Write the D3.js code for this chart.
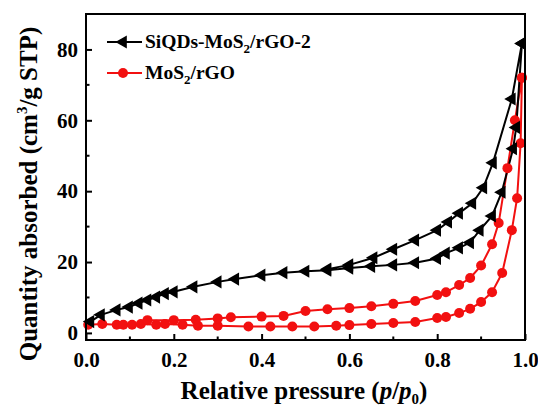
<!DOCTYPE html>
<html>
<head>
<meta charset="utf-8">
<script src="https://cdn.jsdelivr.net/npm/d3@7"></script>
<style>
  body { margin: 0; background: #fff; }
  text { font-family: "Liberation Serif", "Times New Roman", serif; font-weight: bold; }
</style>
</head>
<body>
<div id="chart"></div>
<script>
// SiQDs-MoS2/rGO-2 : adsorption then desorption branch
const siAdsP = [0.01, 0.034, 0.07, 0.098, 0.12, 0.14, 0.16, 0.18, 0.2, 0.245, 0.3, 0.34, 0.4, 0.45, 0.5, 0.55, 0.6, 0.65, 0.7, 0.75, 0.8, 0.82, 0.85, 0.875, 0.897, 0.925, 0.947, 0.973, 0.98, 0.993];
const siAdsV = [3.2, 5.1, 6.5, 7.3, 8.4, 9.3, 10.1, 11.1, 11.6, 13, 14.4, 15.2, 16.3, 17, 17.4, 17.7, 18.3, 18.8, 19.2, 19.8, 21, 22.5, 24, 25.5, 29, 33, 39.7, 52, 58, 81.7];
const siDesP = [0.993, 0.97, 0.927, 0.905, 0.88, 0.85, 0.825, 0.8, 0.75, 0.7, 0.655, 0.6, 0.55];
const siDesV = [81.7, 66, 48, 41, 36.6, 33.8, 31.3, 29, 26.2, 23.6, 21.2, 19.2, 18];

// MoS2/rGO
const moAdsP = [0.005, 0.037, 0.07, 0.085, 0.105, 0.125, 0.16, 0.18, 0.22, 0.255, 0.3, 0.37, 0.42, 0.47, 0.52, 0.57, 0.6, 0.65, 0.7, 0.75, 0.8, 0.82, 0.85, 0.875, 0.9, 0.925, 0.948, 0.97, 0.982, 0.99, 0.993];
const moAdsV = [2.3, 2.5, 2.3, 2.3, 2.3, 2.5, 2.3, 2.5, 2.3, 2.0, 2.0, 1.8, 1.8, 1.8, 1.8, 2.0, 2.2, 2.5, 2.8, 3.1, 4.2, 4.5, 5.6, 6.8, 8.7, 11.5, 16.9, 29, 38, 53.5, 72];
const moDesP = [0.993, 0.977, 0.96, 0.94, 0.925, 0.9, 0.875, 0.85, 0.82, 0.8, 0.75, 0.7, 0.65, 0.6, 0.55, 0.5, 0.45, 0.4, 0.33, 0.3, 0.25, 0.2, 0.14];
const moDesV = [72, 60, 46.5, 31, 25, 19, 15.5, 13.5, 11.5, 10.7, 9, 8.2, 7.5, 7, 6.7, 6.2, 4.8, 4.6, 4.4, 4.1, 3.7, 3.6, 3.6];

const xTicks = [0, 0.2, 0.4, 0.6, 0.8, 1.0];
const yTicks = [0, 20, 40, 60, 80];

const width = 538, height = 409;
const margin = { top: 14, right: 13, bottom: 69, left: 86 };

const x = d3.scaleLinear().domain([0, 1]).range([margin.left, width - margin.right]);
const y = d3.scaleLinear().domain([-2, 90]).range([height - margin.bottom, margin.top]);

const svg = d3.select('#chart').append('svg')
  .attr('width', width)
  .attr('height', height);

const zip = (p, v) => p.map((d, i) => [d, v[i]]);
const siPts = zip(siAdsP, siAdsV).concat(zip(siDesP, siDesV));
const moPts = zip(moAdsP, moAdsV).concat(zip(moDesP, moDesV));

const line = d3.line().x(d => x(d[0])).y(d => y(d[1]));
const red = '#f21010';

// lines
svg.append('path').datum(moPts)
  .attr('d', line).attr('fill', 'none').attr('stroke', red).attr('stroke-width', 2);
svg.append('path').datum(siPts)
  .attr('d', line).attr('fill', 'none').attr('stroke', '#000').attr('stroke-width', 2);

// markers
svg.append('g').selectAll('circle').data(moPts).enter()
  .append('circle')
  .attr('cx', d => x(d[0])).attr('cy', d => y(d[1]))
  .attr('r', 5).attr('fill', red);

const tri = d3.symbol().type(d3.symbolTriangle).size(75);
svg.append('g').selectAll('path').data(siPts).enter()
  .append('path')
  .attr('d', tri)
  .attr('transform', d => `translate(${x(d[0])},${y(d[1])}) rotate(-90)`)
  .attr('fill', '#000');

// axes with inward ticks
const xAxis = d3.axisBottom(x).tickValues(xTicks).tickFormat(d3.format('.1f')).tickSize(-6).tickPadding(12);
const gx = svg.append('g').attr('transform', `translate(0,${height - margin.bottom})`).call(xAxis);
const yAxis = d3.axisLeft(y).tickValues(yTicks).tickSize(-6).tickPadding(8);
const gy = svg.append('g').attr('transform', `translate(${margin.left},0)`).call(yAxis);
[gx, gy].forEach(g => {
  g.select('.domain').remove();
  g.selectAll('line').attr('stroke', '#000').attr('stroke-width', 2);
  g.selectAll('text').attr('font-size', 21).attr('fill', '#000')
    .style('font-family', '"Liberation Serif", serif').style('font-weight', 'bold');
});
// minor ticks
const xMinor = d3.range(0.1, 1, 0.2);
svg.append('g').selectAll('line').data(xMinor).enter().append('line')
  .attr('x1', d => x(d)).attr('x2', d => x(d))
  .attr('y1', height - margin.bottom).attr('y2', height - margin.bottom - 3.5)
  .attr('stroke', '#000').attr('stroke-width', 2);
const yMinor = [10, 30, 50, 70];
svg.append('g').selectAll('line').data(yMinor).enter().append('line')
  .attr('x1', margin.left).attr('x2', margin.left + 3.5)
  .attr('y1', d => y(d)).attr('y2', d => y(d))
  .attr('stroke', '#000').attr('stroke-width', 2);

// frame
svg.append('rect')
  .attr('x', margin.left).attr('y', margin.top)
  .attr('width', width - margin.left - margin.right)
  .attr('height', height - margin.top - margin.bottom)
  .attr('fill', 'none').attr('stroke', '#000').attr('stroke-width', 2);

// axis titles
const xt = svg.append('text')
  .attr('x', 304).attr('y', 399).attr('text-anchor', 'middle').attr('font-size', 25);
xt.append('tspan').text('Relative pressure (');
xt.append('tspan').attr('font-style', 'italic').text('p');
xt.append('tspan').text('/');
xt.append('tspan').attr('font-style', 'italic').text('p');
xt.append('tspan').attr('font-size', 15).attr('dy', 5).text('0');
xt.append('tspan').attr('dy', -5).text(')');

const yt = svg.append('text')
  .attr('transform', 'translate(37,194) rotate(-90)')
  .attr('text-anchor', 'middle').attr('font-size', 25);
yt.append('tspan').text('Quantity absorbed (cm');
yt.append('tspan').attr('font-size', 15).attr('dy', -10).text('3');
yt.append('tspan').attr('dy', 10).text('/g STP)');

// legend
const legend = [
  { name: ['SiQDs-MoS', '2', '/rGO-2'], color: '#000', type: 'tri' },
  { name: ['MoS', '2', '/rGO'], color: red, type: 'circle' }
];
legend.forEach((d, i) => {
  const ly = 42 + i * 31;
  svg.append('line').attr('x1', 107).attr('x2', 142).attr('y1', ly).attr('y2', ly)
    .attr('stroke', d.color).attr('stroke-width', 2);
  if (d.type === 'tri') {
    svg.append('path').attr('d', tri).attr('transform', `translate(123,${ly}) rotate(-90)`).attr('fill', d.color);
  } else {
    svg.append('circle').attr('cx', 123).attr('cy', ly).attr('r', 5).attr('fill', d.color);
  }
  const t = svg.append('text').attr('x', 145).attr('y', ly + 6).attr('font-size', 19.5);
  t.append('tspan').text(d.name[0]);
  t.append('tspan').attr('font-size', 13).attr('dy', 5).text(d.name[1]);
  t.append('tspan').attr('dy', -5).text(d.name[2]);
});
</script>
</body>
</html>
